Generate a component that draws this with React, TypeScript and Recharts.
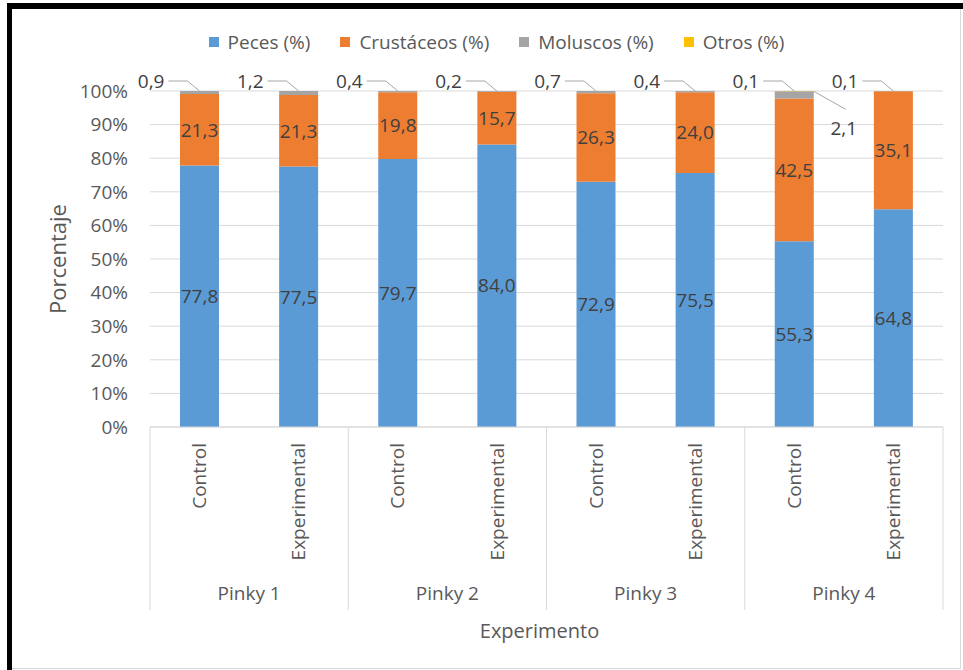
import React from 'react';
import { BarChart, Bar, XAxis, YAxis, CartesianGrid, Legend, LabelList, Label } from 'recharts';

const conditions = ['Control', 'Experimental', 'Control', 'Experimental', 'Control', 'Experimental', 'Control', 'Experimental'];
const groups = ['Pinky 1', 'Pinky 1', 'Pinky 2', 'Pinky 2', 'Pinky 3', 'Pinky 3', 'Pinky 4', 'Pinky 4'];
const peces = [77.8, 77.5, 79.7, 84.0, 72.9, 75.5, 55.3, 64.8];
const crustaceos = [21.3, 21.3, 19.8, 15.7, 26.3, 24.0, 42.5, 35.1];
const moluscos = [0.9, 1.2, 0.4, 0.2, 0.7, 0.4, 2.1, 0.1];
const otros = [0, 0, 0, 0, 0, 0, 0.1, 0];
const yTicks = [0, 0.1, 0.2, 0.3, 0.4, 0.5, 0.6, 0.7, 0.8, 0.9, 1];

const seriesNames = ['Peces (%)', 'Crustáceos (%)', 'Moluscos (%)', 'Otros (%)'];
const seriesColors = ['#5B9BD5', '#ED7D31', '#A5A5A5', '#FFC000'];

const data = conditions.map((c, i) => ({
  cond: c,
  group: groups[i],
  peces: peces[i],
  crustaceos: crustaceos[i],
  moluscos: moluscos[i],
  otros: otros[i],
}));

const W = 963;
const H = 670;
const MARGIN = { top: 28, right: 20, bottom: 0, left: 50 };
const YAXIS_W = 100;
const XAXIS_H = 243;
const PLOT_W = W - MARGIN.left - MARGIN.right - YAXIS_W;
const FONT = '"Open Sans", sans-serif';
const TXT = '#595959';
const LBL = '#404040';
const GRID = '#D9D9D9';
const FS = 19;

const fmt = (v: number) => v.toFixed(1).replace('.', ',');

const CatTick = (props: any) => {
  const { x, y, payload, index } = props;
  const band = PLOT_W / conditions.length;
  const axisY = y - 16;
  const nodes: any[] = [];
  nodes.push(
    <text key="t" x={x} y={y} transform={`rotate(-90, ${x}, ${y})`} textAnchor="end" dy="0.35em" fill={TXT} fontSize={FS}>
      {payload.value}
    </text>
  );
  if (index % 2 === 0) {
    nodes.push(<line key="s1" x1={x - band / 2} x2={x - band / 2} y1={axisY} y2={axisY + 183} stroke={GRID} strokeWidth={1} />);
    nodes.push(
      <text key="g" x={x + band / 2} y={axisY + 166} textAnchor="middle" dominantBaseline="central" fill={TXT} fontSize={FS}>
        {groups[index]}
      </text>
    );
  }
  if (index === conditions.length - 1) {
    nodes.push(<line key="s2" x1={x + band / 2} x2={x + band / 2} y1={axisY} y2={axisY + 183} stroke={GRID} strokeWidth={1} />);
  }
  return <g>{nodes}</g>;
};

const LeftCallout = (x: number, y: number, width: number, value: number) => {
  const cx = x + width / 2;
  const ly = y - 10;
  return (
    <g>
      <polyline points={`${cx - 31},${ly} ${cx - 12},${ly} ${cx},${y}`} fill="none" stroke="#A6A6A6" strokeWidth={1} />
      <text x={cx - 35} y={ly} textAnchor="end" dominantBaseline="central" fill={LBL} fontSize={FS}>
        {fmt(value)}
      </text>
    </g>
  );
};

const MolLabel = (props: any) => {
  const { x, y, width, value, index } = props;
  if (!value) return null;
  if (otros[index] > 0) {
    const rx = x + width;
    return (
      <g>
        <line x1={rx} y1={y} x2={rx + 32} y2={y + 18} stroke="#A6A6A6" strokeWidth={1} />
        <text x={rx + 30} y={y + 37} textAnchor="middle" dominantBaseline="central" fill={LBL} fontSize={FS}>
          {fmt(value)}
        </text>
      </g>
    );
  }
  return LeftCallout(x, y, width, value);
};

const OtrosLabel = (props: any) => {
  const { x, y, width, value } = props;
  if (!value) return null;
  return LeftCallout(x, y, width, value);
};

const LegendContent = () => (
  <div style={{ height: 63, display: 'flex', justifyContent: 'center', alignItems: 'flex-start', boxSizing: 'border-box' }}>
    {seriesNames.map((n, i) => (
      <div key={n} style={{ display: 'flex', alignItems: 'center', height: 28, marginRight: i < seriesNames.length - 1 ? 30 : 0 }}>
        <span style={{ display: 'inline-block', width: 10, height: 10, background: seriesColors[i], marginRight: 9 }} />
        <span style={{ fontSize: FS, color: TXT, fontFamily: FONT, lineHeight: '28px', whiteSpace: 'nowrap' }}>{n}</span>
      </div>
    ))}
  </div>
);

export default function App() {
  return (
    <div style={{ position: 'absolute', left: 0, top: 0, width: W, height: H, background: '#fff', fontFamily: FONT, overflow: 'hidden' }}>
      <BarChart width={W} height={H} data={data} margin={MARGIN} stackOffset="expand" barSize={39}>
        <CartesianGrid vertical={false} stroke={GRID} />
        <Legend verticalAlign="top" align="center" content={<LegendContent />} />
        <XAxis
          dataKey="cond"
          interval={0}
          height={XAXIS_H}
          tickLine={false}
          tickSize={0}
          tickMargin={16}
          axisLine={{ stroke: GRID }}
          tick={<CatTick />}
        >
          <Label
            content={(p: any) => {
              const vb = p.viewBox;
              return (
                <text x={vb.x + vb.width / 2 - 7} y={630} textAnchor="middle" dominantBaseline="central" fill={TXT} fontSize={20}>
                  Experimento
                </text>
              );
            }}
          />
        </XAxis>
        <YAxis
          width={YAXIS_W}
          domain={[0, 1]}
          ticks={yTicks}
          tickFormatter={(v: number) => `${Math.round(v * 100)}%`}
          axisLine={false}
          tickLine={false}
          tickSize={0}
          tickMargin={22}
          tick={{ fill: TXT, fontSize: FS }}
        >
          <Label
            content={(p: any) => {
              const vb = p.viewBox;
              const cy = vb.y + vb.height / 2;
              return (
                <text x={57} y={cy} transform={`rotate(-90, 57, ${cy})`} textAnchor="middle" dominantBaseline="central" fill={TXT} fontSize={22}>
                  Porcentaje
                </text>
              );
            }}
          />
        </YAxis>
        <Bar dataKey="peces" name={seriesNames[0]} stackId="a" fill={seriesColors[0]} isAnimationActive={false}>
          <LabelList dataKey="peces" position="center" formatter={(v: any) => fmt(Number(v))} fill={LBL} fontSize={FS} />
        </Bar>
        <Bar dataKey="crustaceos" name={seriesNames[1]} stackId="a" fill={seriesColors[1]} isAnimationActive={false}>
          <LabelList dataKey="crustaceos" position="center" formatter={(v: any) => fmt(Number(v))} fill={LBL} fontSize={FS} />
        </Bar>
        <Bar dataKey="moluscos" name={seriesNames[2]} stackId="a" fill={seriesColors[2]} isAnimationActive={false}>
          <LabelList dataKey="moluscos" content={<MolLabel />} />
        </Bar>
        <Bar dataKey="otros" name={seriesNames[3]} stackId="a" fill={seriesColors[3]} isAnimationActive={false}>
          <LabelList dataKey="otros" content={<OtrosLabel />} />
        </Bar>
      </BarChart>
      <div style={{ position: 'absolute', left: 7, top: 3, width: 956, height: 6, background: '#000' }} />
      <div style={{ position: 'absolute', left: 7, top: 3, width: 5, height: 667, background: '#000' }} />
      <div style={{ position: 'absolute', left: 960, top: 9, width: 1, height: 660, background: '#D9D9D9' }} />
      <div style={{ position: 'absolute', left: 12, top: 668, width: 949, height: 1, background: '#D9D9D9' }} />
    </div>
  );
}
